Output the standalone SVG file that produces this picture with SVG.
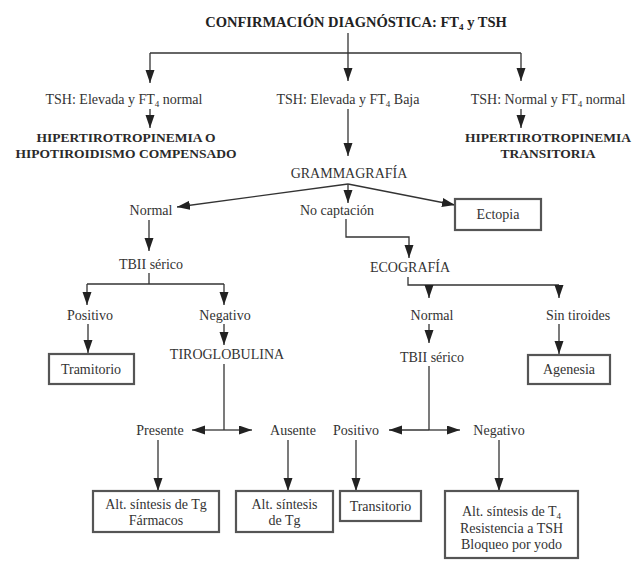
<svg xmlns="http://www.w3.org/2000/svg" width="633" height="561" viewBox="0 0 633 561" font-family="'Liberation Serif', 'DejaVu Serif', serif">
<defs>
<marker id="ah" markerUnits="userSpaceOnUse" markerWidth="14" markerHeight="10" refX="13" refY="4.5" orient="auto">
<path d="M0,0 L13,4.5 L0,9 z" fill="#222"/>
</marker>
<style>
text{font-family:'Liberation Serif','DejaVu Serif',serif;font-size:14px;fill:#333;text-anchor:middle}
.b{font-weight:bold;font-size:13.5px;fill:#2a2a2a}
.t{font-weight:bold;font-size:14.5px;fill:#222}
.box{fill:#fff;stroke:#555;stroke-width:2.2}
.c path,.c line,.c polyline{fill:none;stroke:#333;stroke-width:1.3}
.a{marker-end:url(#ah)}
</style>
</defs>
<rect width="633" height="561" fill="#fff"/>

<g id="connectors" class="c">
<line x1="348" y1="33" x2="348" y2="53"/>
<line x1="150" y1="53" x2="521" y2="53"/>
<line class="a" x1="150" y1="53" x2="150" y2="83"/>
<line class="a" x1="348" y1="53" x2="348" y2="81"/>
<line class="a" x1="521" y1="53" x2="521" y2="81"/>
<line class="a" x1="150" y1="109" x2="150" y2="128"/>
<line class="a" x1="521" y1="109" x2="521" y2="128"/>
<line class="a" x1="348" y1="109" x2="348" y2="156"/>
<line class="a" x1="348" y1="184" x2="177" y2="207"/>
<line class="a" x1="348" y1="184" x2="348" y2="203"/>
<line class="a" x1="348" y1="184" x2="455" y2="205"/>
<polyline class="a" points="346,219 346,237 409,237 409,258"/>
<polyline points="408,277 408,285 559,285"/>
<line class="a" x1="429" y1="285" x2="429" y2="298"/>
<line class="a" x1="559" y1="285" x2="559" y2="298"/>
<line class="a" x1="429" y1="324" x2="429" y2="343"/>
<line class="a" x1="559" y1="324" x2="559" y2="354"/>
<line class="a" x1="149" y1="220" x2="149" y2="251"/>
<line x1="149" y1="273" x2="149" y2="284"/>
<line x1="87" y1="284" x2="224" y2="284"/>
<line class="a" x1="87" y1="284" x2="87" y2="305"/>
<line class="a" x1="224" y1="284" x2="224" y2="305"/>
<line class="a" x1="88" y1="324" x2="88" y2="353"/>
<line class="a" x1="224" y1="324" x2="224" y2="345"/>
<line x1="224" y1="364" x2="224" y2="430"/>
<line class="a" x1="224" y1="430" x2="192" y2="430"/>
<line class="a" x1="224" y1="430" x2="252" y2="430"/>
<line x1="429" y1="366" x2="429" y2="430"/>
<line class="a" x1="429" y1="430" x2="389" y2="430"/>
<line class="a" x1="429" y1="430" x2="460" y2="430"/>
<line class="a" x1="158" y1="440" x2="158" y2="491"/>
<line class="a" x1="288" y1="440" x2="288" y2="491"/>
<line class="a" x1="356" y1="440" x2="356" y2="491"/>
<line class="a" x1="499" y1="440" x2="499" y2="491"/>
</g>

<g id="title"><text class="t" x="356" y="27">CONFIRMACIÓN DIAGNÓSTICA: FT<tspan font-size="9" dy="3">4</tspan><tspan dy="-3"> y TSH</tspan></text></g>

<g id="tsh-elev-normal"><text x="124" y="104">TSH: Elevada y FT<tspan font-size="9" dy="3">4</tspan><tspan dy="-3"> normal</tspan></text></g>
<g id="tsh-elev-baja"><text x="348" y="104">TSH: Elevada y FT<tspan font-size="9" dy="3">4</tspan><tspan dy="-3"> Baja</tspan></text></g>
<g id="tsh-normal-normal"><text x="548" y="104">TSH: Normal y FT<tspan font-size="9" dy="3">4</tspan><tspan dy="-3"> normal</tspan></text></g>

<g id="hiper-compensado"><text class="b" x="126" y="142">HIPERTIROTROPINEMIA O</text><text class="b" x="126" y="158">HIPOTIROIDISMO COMPENSADO</text></g>
<g id="hiper-transitoria"><text class="b" x="548" y="142">HIPERTIROTROPINEMIA</text><text class="b" x="548" y="158">TRANSITORIA</text></g>

<g id="grammagrafia"><text x="349" y="178">GRAMMAGRAFÍA</text></g>
<g id="gram-normal"><text x="151" y="215">Normal</text></g>
<g id="no-captacion"><text x="337" y="215">No captación</text></g>
<g id="ectopia"><rect class="box" x="455" y="199" width="86" height="31"/><text x="498" y="219">Ectopia</text></g>

<g id="ecografia"><text x="410" y="272">ECOGRAFÍA</text></g>
<g id="eco-normal"><text x="432" y="320">Normal</text></g>
<g id="sin-tiroides"><text x="578" y="320">Sin tiroides</text></g>
<g id="tbii-2"><text x="432" y="362">TBII sérico</text></g>
<g id="agenesia"><rect class="box" x="528" y="355" width="82" height="29"/><text x="569" y="374">Agenesia</text></g>

<g id="tbii-1"><text x="151" y="269">TBII sérico</text></g>
<g id="positivo-1"><text x="90" y="320">Positivo</text></g>
<g id="negativo-1"><text x="225" y="320">Negativo</text></g>
<g id="tramitorio"><rect class="box" x="49" y="354" width="85" height="30"/><text x="91" y="374">Tramitorio</text></g>
<g id="tiroglobulina"><text x="227" y="359">TIROGLOBULINA</text></g>

<g id="presente"><text x="160" y="435">Presente</text></g>
<g id="ausente"><text x="293" y="435">Ausente</text></g>
<g id="positivo-2"><text x="356" y="435">Positivo</text></g>
<g id="negativo-2"><text x="499" y="435">Negativo</text></g>

<g id="box-tg-farmacos"><rect class="box" x="93" y="491" width="126" height="41"/><text x="156" y="509">Alt. síntesis de Tg</text><text x="156" y="525">Fármacos</text></g>
<g id="box-tg"><rect class="box" x="236" y="491" width="97" height="41"/><text x="284.5" y="509">Alt. síntesis</text><text x="284.5" y="525">de Tg</text></g>
<g id="box-transitorio"><rect class="box" x="340" y="491" width="81" height="30"/><text x="380.5" y="511">Transitorio</text></g>
<g id="box-t4"><rect class="box" x="445" y="491" width="133" height="67"/><text x="511.5" y="516">Alt. síntesis de T<tspan font-size="9" dy="3">4</tspan></text><text x="511.5" y="533">Resistencia a TSH</text><text x="511.5" y="549">Bloqueo por yodo</text></g>
</svg>
